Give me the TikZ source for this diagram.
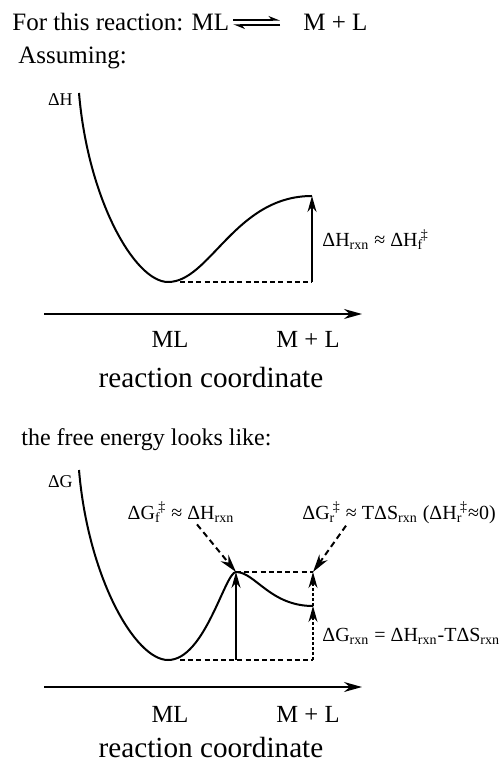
\documentclass[tikz,border=0pt]{standalone}
\usepackage{fontspec}
\setmainfont{Liberation Serif}
\usetikzlibrary{arrows.meta, positioning}

\newcommand{\rxn}{\textsubscript{rxn}}
\newcommand{\tsd}[1]{\textsubscript{#1}\kern-1.2pt\textsuperscript{‡}}

\begin{document}
\begin{tikzpicture}[
    x=0.5pt, y=-0.5pt,
    txt/.style={inner sep=0pt, anchor=base west, font=\fontsize{12.5}{14}\selectfont},
    lbl/.style={inner sep=0pt, anchor=base west, font=\fontsize{10}{12}\selectfont},
    axname/.style={inner sep=0pt, anchor=base east, font=\fontsize{9}{11}\selectfont},
    axlbl/.style={inner sep=0pt, anchor=base, font=\fontsize{12.3}{14}\selectfont},
    coordlbl/.style={inner sep=0pt, anchor=base, font=\fontsize{14.6}{17}\selectfont},
    curve/.style={line width=1pt},
    axis/.style={line width=0.8pt, -{Stealth[length=9pt, width=5pt]}},
    level/.style={line width=0.6pt, dash pattern=on 2.5pt off 1.6pt},
    rise/.style={line width=0.9pt, -{Stealth[length=8pt, width=4.5pt]}},
    risedash/.style={rise, line width=0.6pt, dash pattern=on 1.5pt off 1pt},
    pointer/.style={line width=1pt, dash pattern=on 3pt off 2pt, -{Stealth[length=9pt, width=5pt]}},
    harp/.style={line width=0.6pt, -{Stealth[harpoon, length=5pt, width=4pt]}}
]
\useasboundingbox (0,0) rectangle (500,763);

% Title
\node[txt] (ttl) at (12,31) {For this reaction: ML};
\node[txt] (prod) at (303,31) {M + L};
\draw[harp] ([xshift=2pt, yshift=5.5pt]ttl.base east) -- ([xshift=-11.5pt, yshift=5.5pt]prod.base west);
\draw[harp] ([xshift=-11.5pt, yshift=3pt]prod.base west) -- ([xshift=2pt, yshift=3pt]ttl.base east);

% Enthalpy profile
\node[txt] (assume) at (18,64) {Assuming:};
\node[axname] (dH) at (73,106) {ΔH};
\coordinate (hTop) at (79,93);
\coordinate (hMin) at (168,282);
\coordinate (hEnd) at (312,196);
\coordinate (hDash) at (180,282);
\coordinate (hBase) at (312,282);
\draw[curve] (hTop) .. controls (88,200) and (135,282) .. (hMin)
    .. controls (210,282) and (235,196) .. (hEnd);
\draw[level] (hDash) -- (hBase);
\draw[rise] (hBase) -- (hEnd);
\node[lbl] (dHrxn) at (322,247) {ΔH\rxn{} ≈ ΔH\tsd{f}};

\coordinate (axA) at (44,314);
\coordinate (axB) at (362,314);
\draw[axis] (axA) -- (axB);
\node[axlbl] (mlA) at (170,348) {ML};
\node[axlbl] (mplA) at (308,348) {M + L};
\node[coordlbl] (rcA) at (211,387) {reaction coordinate};

% Free energy profile
\node[txt, font=\fontsize{12}{14}\selectfont] (free) at (21,445) {the free energy looks like:};
\node[axname] (dG) at (73,487) {ΔG};
\coordinate (gTop) at (79,470);
\coordinate (gMin) at (168,660);
\coordinate (gPeak) at (236,572);
\coordinate (gEnd) at (313,606);
\coordinate (gDash) at (180,660);
\coordinate (gPeakBase) at (236,660);
\coordinate (gBase) at (313,660);
\coordinate (gTopR) at (313,572);
\draw[curve] (gTop) .. controls (88,577) and (135,660) .. (gMin)
    .. controls (205,660) and (225,572) .. (gPeak)
    .. controls (255,572) and (270,606) .. (gEnd);
\draw[level] (gDash) -- (gBase);
\draw[level] (gPeak) -- (gTopR);
\draw[rise] (gPeakBase) -- (gPeak);
\draw[risedash] (gBase) -- (gEnd);
\draw[risedash] (gEnd) -- (gTopR);

\node[lbl, anchor=base] (gfl) at (181,519) {ΔG\tsd{f} ≈ ΔH\rxn};
\node[lbl] (grl) at (302,519) {ΔG\tsd{r} ≈ TΔS\rxn{} (ΔH\tsd{r}≈0)};
\node[lbl] (grxn) at (322,641) {ΔG\rxn{} = ΔH\rxn-TΔS\rxn};
\draw[pointer] ([xshift=8pt, yshift=-1pt]gfl.south) -- (gPeak);
\draw[pointer] ([xshift=22pt, yshift=-1pt]grl.south west) -- (gTopR);

\coordinate (axC) at (44,687);
\coordinate (axD) at (362,687);
\draw[axis] (axC) -- (axD);
\node[axlbl] (mlB) at (170,722) {ML};
\node[axlbl] (mplB) at (308,722) {M + L};
\node[coordlbl] (rcB) at (211,757) {reaction coordinate};

\end{tikzpicture}
\end{document}
